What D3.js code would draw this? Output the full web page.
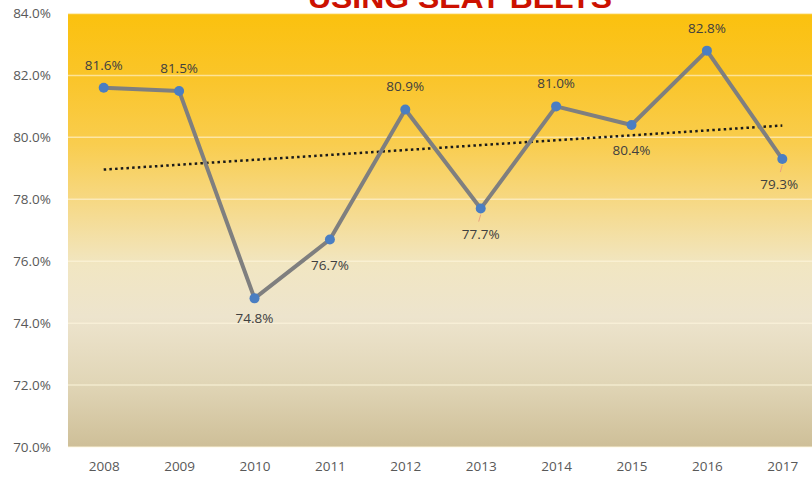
<!DOCTYPE html>
<html><head><meta charset="utf-8">
<script src="https://cdn.jsdelivr.net/npm/d3@7"></script>
<style>
html,body{margin:0;padding:0;background:#fff;}
svg{display:block;}
</style></head>
<body>
<svg id="chart" width="812" height="482"></svg>
<script>
const years = ["2008","2009","2010","2011","2012","2013","2014","2015","2016","2017"];
const values = [81.6, 81.5, 74.8, 76.7, 80.9, 77.7, 81.0, 80.4, 82.8, 79.3];
const labelPos = ["above","above","below","below","above","below","above","below","above","below"];
const yTicks = [70, 72, 74, 76, 78, 80, 82, 84];
const title = "USING SEAT BELTS";

const svg = d3.select("#chart");
const W = 812, H = 482;
const plot = {left: 68, right: 812, top: 13.5, bottom: 447};

const x = d3.scalePoint().domain(years).range([66, 820]).padding(0.5);
const y = d3.scaleLinear().domain([70, 84]).range([plot.bottom, plot.top]);

// background gradient
const defs = svg.append("defs");
const grad = defs.append("linearGradient").attr("id","bg").attr("x1",0).attr("y1",0).attr("x2",0).attr("y2",1);
[[0,"#FBC10E"],[0.15,"#FAC52A"],[0.3,"#F9CD4E"],[0.44,"#F6D987"],[0.58,"#F1E6C2"],[0.7,"#EDE4CD"],[0.85,"#E1D6B7"],[1,"#CEBF98"]]
  .forEach(([o,c]) => grad.append("stop").attr("offset",o).attr("stop-color",c));

svg.append("rect").attr("x",plot.left).attr("y",plot.top)
  .attr("width",plot.right-plot.left).attr("height",plot.bottom-plot.top)
  .attr("fill","url(#bg)");

// gridlines
svg.append("g").selectAll("line").data(yTicks).join("line")
  .attr("x1",plot.left).attr("x2",plot.right)
  .attr("y1",d=>y(d)).attr("y2",d=>y(d))
  .attr("stroke","#FFF6E0").attr("stroke-opacity",0.6).attr("stroke-width",1.5);

// title (clipped at top)
svg.append("text").attr("x",460).attr("y",8)
  .attr("text-anchor","middle")
  .attr("font-family","'Liberation Sans Narrow','Arial Narrow','Liberation Sans',Arial,sans-serif")
  .attr("font-weight","bold").attr("font-size",30)
  .attr("textLength",304).attr("lengthAdjust","spacingAndGlyphs")
  .attr("fill","#CC1100").text(title);

// y axis
const yAxis = d3.axisLeft(y).tickValues(yTicks).tickFormat(d=>d.toFixed(1)+"%").tickSize(0).tickPadding(0);
const gy = svg.append("g").attr("transform",`translate(51,0)`).call(yAxis);
gy.select(".domain").remove();
gy.selectAll("text").attr("font-family","'Open Sans',sans-serif").attr("font-size",13.5).attr("fill","#595959");

// x axis
const xAxis = d3.axisBottom(x).tickSize(0).tickPadding(0);
const gx = svg.append("g").attr("transform",`translate(0,${plot.bottom+14})`).call(xAxis);
gx.select(".domain").remove();
gx.selectAll("text").attr("font-family","'Open Sans',sans-serif").attr("font-size",13.5).attr("fill","#595959");

// linear trendline (least squares on the series)
const n = values.length;
const xs = d3.range(n);
const mx = d3.mean(xs), my = d3.mean(values);
const slope = d3.sum(xs, i => (i-mx)*(values[i]-my)) / d3.sum(xs, i => (i-mx)*(i-mx));
const icpt = my - slope*mx;
svg.append("line")
  .attr("x1",x(years[0])).attr("y1",y(icpt))
  .attr("x2",x(years[n-1])).attr("y2",y(icpt+slope*(n-1)))
  .attr("stroke","#1a1a1a").attr("stroke-width",2.5).attr("stroke-dasharray","2.5,3.2");

// data line
const line = d3.line().x((d,i)=>x(years[i])).y(d=>y(d));
svg.append("path").datum(values).attr("d",line)
  .attr("fill","none").attr("stroke","#7F7F7F").attr("stroke-width",4).attr("stroke-linejoin","round");

// leader lines for some labels
const leaders = ["2013","2017"];
svg.append("g").selectAll("line").data(leaders).join("line")
  .attr("x1",d=>x(d)).attr("x2",d=>x(d)-2)
  .attr("y1",d=>y(values[years.indexOf(d)])+6).attr("y2",d=>y(values[years.indexOf(d)])+13)
  .attr("stroke","#E8A080").attr("stroke-width",1);

// markers
svg.append("g").selectAll("circle").data(values).join("circle")
  .attr("cx",(d,i)=>x(years[i])).attr("cy",d=>y(d)).attr("r",5)
  .attr("fill","#4A7EC2");

// data labels
svg.append("g").selectAll("text").data(values).join("text")
  .attr("x",(d,i)=>x(years[i]) - (years[i]==="2017"?3:0))
  .attr("y",(d,i)=> labelPos[i]==="above" ? y(d)-18 : y(d)+ (years[i]==="2010"?25:30))
  .attr("text-anchor","middle")
  .attr("font-family","'Open Sans',sans-serif").attr("font-size",13.5).attr("fill","#404040")
  .text(d=>d.toFixed(1)+"%");
</script>
</body></html>
